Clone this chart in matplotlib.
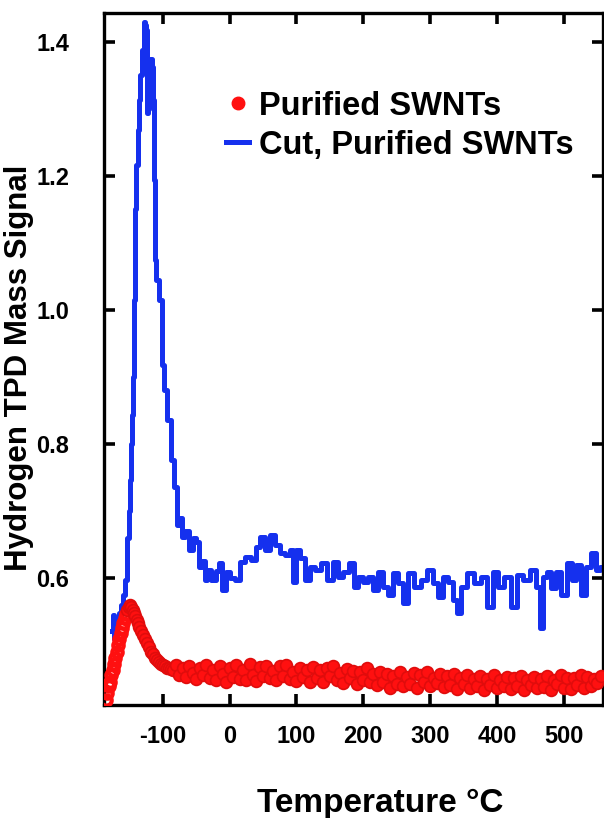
import numpy as np
import matplotlib
matplotlib.use("Agg")
import matplotlib.pyplot as plt
from matplotlib.lines import Line2D

plt.rcParams['font.family'] = ['Liberation Sans', 'DejaVu Sans']
plt.rcParams['font.weight'] = 'bold'
plt.rcParams['axes.unicode_minus'] = False

# cut, purified SWNTs (blue trace)
blue_T = [-176, -174, -172, -170, -167, -164, -161, -158, -155, -152, -150, -148,
          -146, -145, -144, -143, -142, -142, -140, -139, -136, -135, -132, -130,
          -127, -125, -124, -123, -121, -120, -117, -115, -114, -112, -111, -108,
          -103, -100, -96, -91, -85, -80, -76, -72, -69, -64, -58, -53, -48, -43,
          -39, -36, -31, -24, -18, -13, -9, -3, 4, 12, 19, 28, 36, 43, 49, 57, 64,
          72, 79, 87, 94, 97, 102, 109, 117, 124, 132, 141, 151, 159, 166, 174,
          184, 189, 196, 204, 211, 219, 226, 234, 241, 248, 256, 263, 271, 281,
          290, 301, 308, 316, 323, 331, 338, 343, 350, 361, 371, 380, 391, 398,
          406, 416, 425, 433, 443, 454, 461, 466, 470, 478, 484, 491, 500, 508,
          515, 522, 530, 537, 545, 551, 558]
blue_sig = [0.520, 0.545, 0.508, 0.530, 0.540, 0.548, 0.560, 0.575, 0.597, 0.660,
            0.700, 0.746, 0.800, 0.843, 0.900, 0.948, 1.015, 1.075, 1.150, 1.216,
            1.269, 1.313, 1.351, 1.388, 1.430, 1.425, 1.418, 1.294, 1.300, 1.373,
            1.375, 1.362, 1.313, 1.194, 1.075, 1.045, 1.015, 0.918, 0.881, 0.836,
            0.776, 0.735, 0.679, 0.690, 0.661, 0.670, 0.642, 0.660, 0.654, 0.616,
            0.625, 0.597, 0.612, 0.597, 0.610, 0.622, 0.582, 0.609, 0.600, 0.597,
            0.624, 0.631, 0.627, 0.646, 0.661, 0.642, 0.664, 0.649, 0.637, 0.634,
            0.642, 0.594, 0.642, 0.630, 0.597, 0.616, 0.612, 0.622, 0.597, 0.624,
            0.601, 0.609, 0.622, 0.587, 0.601, 0.594, 0.601, 0.582, 0.609, 0.587,
            0.575, 0.607, 0.593, 0.563, 0.607, 0.587, 0.597, 0.612, 0.593, 0.572,
            0.601, 0.594, 0.567, 0.548, 0.587, 0.607, 0.593, 0.601, 0.557, 0.609,
            0.587, 0.601, 0.557, 0.604, 0.597, 0.612, 0.587, 0.525, 0.601, 0.609,
            0.585, 0.609, 0.575, 0.622, 0.597, 0.619, 0.575, 0.616, 0.637, 0.612,
            0.616]

# purified SWNTs (red points): desorption peak, then the plateau every 5 degrees
red_T_peak = [-185, -183, -181, -179, -177, -175, -173, -171, -169, -167, -165,
              -163, -161, -159, -157, -155, -153, -151, -149, -147, -145, -143,
              -141, -139, -137, -135, -132, -129, -126, -123, -120, -117, -114,
              -111, -108, -105, -102, -99, -96, -93, -90, -87, -84]
red_sig_peak = [0.418, 0.428, 0.438, 0.445, 0.455, 0.463, 0.472, 0.480, 0.490,
                0.500, 0.508, 0.517, 0.525, 0.533, 0.540, 0.546, 0.552, 0.556,
                0.559, 0.557, 0.552, 0.548, 0.543, 0.537, 0.532, 0.527, 0.521,
                0.515, 0.508, 0.503, 0.497, 0.490, 0.486, 0.481, 0.478, 0.474,
                0.472, 0.470, 0.468, 0.466, 0.465, 0.464, 0.463]
red_T_flat = list(range(-80, 556, 5))
red_sig_flat = [
    0.470, 0.455, 0.466, 0.452, 0.469, 0.458, 0.449, 0.466, 0.455, 0.470,
    0.451, 0.463, 0.447, 0.468, 0.456, 0.445, 0.466, 0.452, 0.470, 0.449,
    0.462, 0.448, 0.471, 0.455, 0.446, 0.467, 0.453, 0.469, 0.450, 0.461,
    0.447, 0.468, 0.454, 0.470, 0.449, 0.459, 0.446, 0.466, 0.452, 0.463,
    0.445, 0.467, 0.451, 0.462, 0.444, 0.465, 0.453, 0.468, 0.447, 0.458,
    0.443, 0.464, 0.450, 0.461, 0.441, 0.459, 0.447, 0.465, 0.444, 0.456,
    0.440, 0.459, 0.445, 0.456, 0.436, 0.454, 0.442, 0.460, 0.438, 0.452,
    0.441, 0.458, 0.436, 0.455, 0.444, 0.460, 0.438, 0.451, 0.443, 0.457,
    0.437, 0.454, 0.440, 0.457, 0.434, 0.450, 0.442, 0.455, 0.436, 0.449,
    0.438, 0.453, 0.433, 0.449, 0.440, 0.455, 0.435, 0.447, 0.439, 0.452,
    0.434, 0.450, 0.438, 0.454, 0.432, 0.447, 0.440, 0.452, 0.435, 0.449,
    0.437, 0.453, 0.433, 0.448, 0.441, 0.455, 0.436, 0.450, 0.434, 0.451,
    0.440, 0.455, 0.436, 0.452, 0.438, 0.449, 0.443, 0.454]

x_ticks = [-100, 0, 100, 200, 300, 400, 500]
y_ticks = [0.6, 0.8, 1.0, 1.2, 1.4]

blue = '#1530ee'
red = '#ff1010'

fig = plt.figure(figsize=(6.04, 8.18), dpi=100)
ax = fig.add_axes([0.172, 0.138, 0.826, 0.846])

ax.plot(blue_T, blue_sig, color=blue, lw=3.6, drawstyle='steps-mid', zorder=2)
# rising edge drawn as open rings, the rest as a dense band of filled dots
ax.plot(red_T_peak[:16], red_sig_peak[:16], ls='none',
        marker='o', ms=7.5, mfc='none', mec=red, mew=3.0, zorder=3)
ax.plot(red_T_peak[16:] + red_T_flat, red_sig_peak[16:] + red_sig_flat, ls='none',
        marker='o', ms=8.5, mfc=red, mec='#e00c0c', mew=1.2, zorder=3)

ax.set_xlim(-188, 558)
ax.set_ylim(0.41, 1.443)
ax.set_xticks(x_ticks)
ax.set_yticks(y_ticks)
ax.set_yticklabels(['%.1f' % v for v in y_ticks])

ax.tick_params(direction='in', length=8, width=2.6, labelsize=17,
               top=True, right=True)
ax.tick_params(axis='x', pad=14)
ax.tick_params(axis='y', pad=25)
for s in ax.spines.values():
    s.set_linewidth(2.4)

ax.set_xlabel('Temperature \u00b0C', fontsize=24, fontweight='bold')
ax.xaxis.set_label_coords(0.553, -0.12)
ax.set_ylabel('Hydrogen TPD Mass Signal', fontsize=22.5, fontweight='bold')
ax.yaxis.set_label_coords(-0.14, 0.488)

handles = [Line2D([], [], ls='none', marker='o', ms=9, color=red),
           Line2D([], [], color=blue, lw=3.6)]
ax.legend(handles, ['Purified SWNTs', 'Cut, Purified SWNTs'], loc='upper left',
          bbox_to_anchor=(0.245, 0.888), frameon=False, fontsize=23.5,
          handlelength=0.7, handletextpad=0.3, labelspacing=0.25,
          borderaxespad=0, borderpad=0)

fig.savefig('out.png', dpi=100)
